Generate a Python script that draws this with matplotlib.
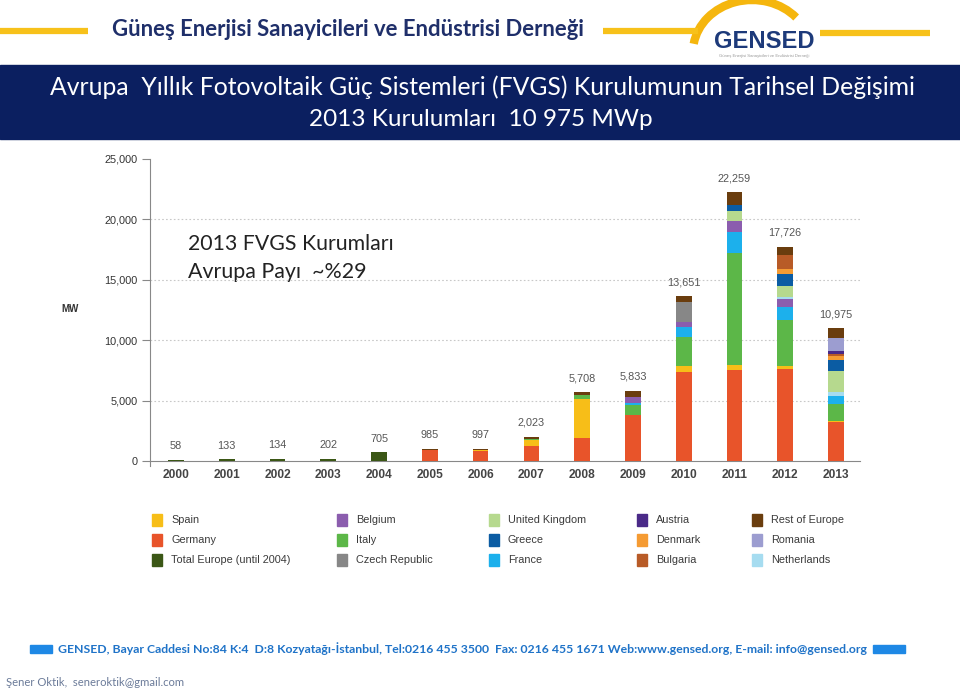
import matplotlib

matplotlib.use("Agg")
import matplotlib.pyplot as plt
from matplotlib.patches import Arc, Rectangle

# --- data (MW installed per year, Europe) ---
years = ["2000", "2001", "2002", "2003", "2004", "2005", "2006",
         "2007", "2008", "2009", "2010", "2011", "2012", "2013"]
totals = [58, 133, 134, 202, 705, 985, 997, 2023, 5708, 5833, 13651, 22259, 17726, 10975]
total_labels = ["58", "133", "134", "202", "705", "985", "997", "2,023", "5,708",
                "5,833", "13,651", "22,259", "17,726", "10,975"]

germany = [0, 0, 0, 0, 0, 906, 843, 1210, 1890, 3780, 7400, 7500, 7610, 3260]
spain = [0, 0, 0, 0, 0, 23, 90, 540, 3250, 0, 500, 470, 280, 85]
italy = [0, 0, 0, 0, 0, 0, 13, 70, 320, 830, 2380, 9210, 3820, 1385]
france = [0, 0, 0, 0, 0, 0, 0, 0, 0, 220, 800, 1770, 1050, 690]
belgium = [0, 0, 0, 0, 0, 0, 0, 0, 0, 440, 410, 910, 610, 0]
czech = [0, 0, 0, 0, 0, 0, 0, 0, 0, 0, 1660, 0, 0, 0]
netherlands = [0, 0, 0, 0, 0, 0, 0, 0, 0, 0, 0, 0, 220, 280]
uk = [0, 0, 0, 0, 0, 0, 0, 0, 0, 0, 0, 860, 890, 1715]
greece = [0, 0, 0, 0, 0, 0, 0, 0, 0, 0, 0, 470, 970, 970]
denmark = [0, 0, 0, 0, 0, 0, 0, 0, 0, 0, 0, 0, 410, 330]
bulgaria = [0, 0, 0, 0, 0, 0, 0, 0, 0, 0, 0, 0, 1160, 140]
austria = [0, 0, 0, 0, 0, 0, 0, 0, 0, 0, 0, 0, 0, 220]
romania = [0, 0, 0, 0, 0, 0, 0, 0, 0, 0, 0, 0, 0, 1105]
rest = [0, 0, 0, 0, 0, 56, 51, 203, 248, 563, 501, 1069, 706, 795]
total_europe = [58, 133, 134, 202, 705, 0, 0, 0, 0, 0, 0, 0, 0, 0]

# stacking order bottom -> top
STACK = [
    ("Germany", germany, "#e8542a"),
    ("Spain", spain, "#f7be18"),
    ("Italy", italy, "#5cb748"),
    ("France", france, "#1cb0ec"),
    ("Belgium", belgium, "#8b5dae"),
    ("Czech Republic", czech, "#878787"),
    ("Netherlands", netherlands, "#a6dcf0"),
    ("United Kingdom", uk, "#b6d98e"),
    ("Greece", greece, "#0b5ca3"),
    ("Denmark", denmark, "#f59b33"),
    ("Bulgaria", bulgaria, "#b85b27"),
    ("Austria", austria, "#4a2a88"),
    ("Romania", romania, "#9c9dd0"),
    ("Rest of Europe", rest, "#6a3d0e"),
    ("Total Europe (until 2004)", total_europe, "#3b5716"),
]
COLORS = {name: c for name, _, c in STACK}

legend_cols = [
    ["Spain", "Germany", "Total Europe (until 2004)"],
    ["Belgium", "Italy", "Czech Republic"],
    ["United Kingdom", "Greece", "France"],
    ["Austria", "Denmark", "Bulgaria"],
    ["Rest of Europe", "Romania", "Netherlands"],
]

W, H = 960, 692
HEAD = ["Lato", "DejaVu Sans"]
ARIAL = ["Liberation Sans", "DejaVu Sans"]

fig = plt.figure(figsize=(W / 100, H / 100), dpi=100)
fig.patch.set_facecolor("white")

# overlay in pixel coords for the slide decoration
ov = fig.add_axes([0, 0, 1, 1], zorder=0)
ov.set_xlim(0, W)
ov.set_ylim(H, 0)
ov.axis("off")
renderer = fig.canvas.get_renderer()


def fit(x, y, s, width, ha="center", **kw):
    t = ov.text(x, y, s, ha=ha, va="center", fontsize=10, **kw)
    w = t.get_window_extent(renderer).width
    t.set_fontsize(10 * width / w)
    return t


# header
for x0, x1, yy in ((0, 88, 31), (603, 698, 31), (820, 930, 33)):
    ov.plot([x0, x1], [yy, yy], color="#f7c11a", lw=4.5, solid_capstyle="butt")
fit(348, 30, "Güneş Enerjisi Sanayicileri ve Endüstrisi Derneği", 473,
    color="#1f2f6a", fontweight="bold", family=HEAD)

# logo
ov.add_patch(Arc((752, 52), 118, 104, theta1=188, theta2=322, color="#f5b60e", lw=6))
fit(764, 42, "GENSED", 100, color="#1d3a7a", fontweight="bold", family=ARIAL)
fit(764, 56, "Güneş Enerjisi Sanayicileri ve Endüstrisi Derneği", 92, color="#999999",
    family=ARIAL)

# title band
ov.add_patch(Rectangle((0, 65), W, 74, color="#0b1f60", zorder=1))
fit(482, 87, "Avrupa  Yıllık Fotovoltaik Güç Sistemleri (FVGS) Kurulumunun Tarihsel Değişimi",
    865, color="white", family=HEAD, zorder=2)
fit(481, 119, "2013 Kurulumları  10 975 MWp", 342, color="white", family=HEAD, zorder=2)

# chart
ax = fig.add_axes([150 / W, 1 - 461 / H, 710 / W, 302 / H], zorder=1)
ax.set_facecolor("none")
x = list(range(len(years)))
bottom = [0] * len(years)
for name, vals, color in STACK:
    ax.bar(x, vals, width=0.31, bottom=bottom, color=color, zorder=3)
    bottom = [b + v for b, v in zip(bottom, vals)]

for xi, tot, lab in zip(x, totals, total_labels):
    ax.text(xi, tot + 1150, lab, ha="center", va="center", fontsize=7.8,
            color="#555555", family=ARIAL)

ax.set_xlim(-0.512, 13.473)
ax.set_ylim(0, 25000)
ax.set_xticks(x)
ax.set_xticklabels(years, fontsize=8.6, fontweight="bold", color="#444444", family=ARIAL)
ax.set_yticks([0, 5000, 10000, 15000, 20000, 25000])
ax.set_yticklabels(["0", "5,000", "10,000", "15,000", "20,000", "25,000"],
                   fontsize=7.8, color="#333333", family=ARIAL)
ax.tick_params(axis="x", length=0, pad=6)
ax.tick_params(axis="y", length=6, width=0.8, color="#888888", pad=3)
for yv in (5000, 10000, 15000, 20000):
    ax.axhline(yv, color="#c8c8c8", lw=0.8, ls=(0, (1.5, 2)), zorder=1)
for side in ("top", "right"):
    ax.spines[side].set_visible(False)
ax.spines["left"].set_color("#888888")
ax.spines["bottom"].set_color("#888888")
ax.spines["left"].set_bounds(-400, 25000)

ov.text(70, 309, "MW", ha="center", va="center", fontsize=7, fontweight="bold",
        color="#333333", family=ARIAL)
fit(188, 244, "2013 FVGS Kurumları", 205, ha="left", color="#222222", family=HEAD)
fit(188, 272, "Avrupa Payı  ~%29", 178, ha="left", color="#222222", family=HEAD)

# legend
col_x = [152, 337, 489, 637, 752]
row_y = [520, 540, 560]
for cx, names in zip(col_x, legend_cols):
    for ry, name in zip(row_y, names):
        ov.add_patch(Rectangle((cx, ry - 6), 10, 12, color=COLORS[name]))
        ov.text(cx + 19, ry, name, ha="left", va="center", fontsize=7.8, color="#3a3a3a",
                family=ARIAL)

# footer
ov.add_patch(Rectangle((30, 645), 22, 8, color="#1e88e5"))
ov.add_patch(Rectangle((873, 645), 32, 8, color="#1e88e5"))
fit(462, 649, "GENSED, Bayar Caddesi No:84 K:4  D:8 Kozyatağı-İstanbul, Tel:0216 455 3500  "
    "Fax: 0216 455 1671 Web:www.gensed.org, E-mail: info@gensed.org", 808,
    color="#1f73c8", fontweight="bold", family=HEAD)
fit(6, 683, "Şener Oktik,  seneroktik@gmail.com", 178, ha="left", color="#6b7b99",
    family=HEAD)

fig.savefig("out.png", dpi=100)
